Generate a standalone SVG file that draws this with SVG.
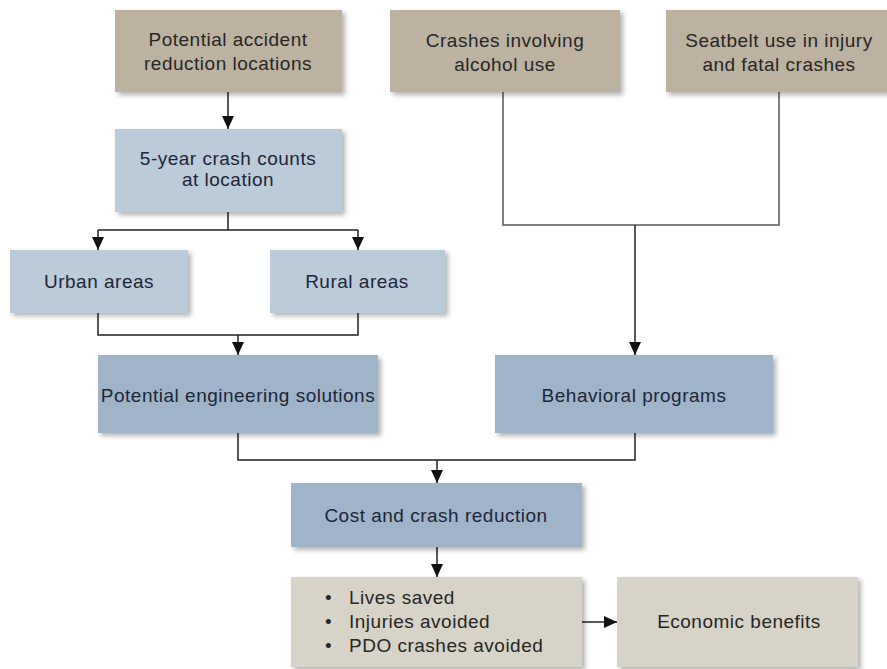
<svg xmlns="http://www.w3.org/2000/svg" width="887" height="669" viewBox="0 0 887 669">
<defs>
<filter id="sh" x="-10%" y="-10%" width="125%" height="130%">
<feDropShadow dx="3" dy="3" stdDeviation="2.5" flood-color="#000" flood-opacity="0.3"/>
</filter>
<marker id="ah" markerWidth="13" markerHeight="12" refX="13" refY="6" orient="auto" markerUnits="userSpaceOnUse">
<path d="M0,0 L13,6 L0,12 Z" fill="#111"/>
</marker>
<style>
.tan{fill:#bcb29f;filter:url(#sh)}
.lb{fill:#bccbd9;filter:url(#sh)}
.mb{fill:#9fb3c9;filter:url(#sh)}
.gr{fill:#d7d3c6;filter:url(#sh)}
text{font-family:"Liberation Sans",Arial,sans-serif;font-size:19px;letter-spacing:0.5px;text-anchor:middle}
.dk{fill:#262626}
.nv{fill:#1c2638}
.st{text-anchor:start}
.ln{fill:none;stroke:#222;stroke-width:1.5}
.lg{fill:none;stroke:#555;stroke-width:1.5}
.ar{marker-end:url(#ah)}
</style>
</defs>
<rect width="887" height="669" fill="#fff"/>
<g id="connectors">
<line class="ln ar" x1="228" y1="92" x2="228" y2="129"/>
<path class="ln" d="M228,212 V230 M98,230 H358"/>
<line class="ln ar" x1="98" y1="230" x2="98" y2="250"/>
<line class="ln ar" x1="358" y1="230" x2="358" y2="250"/>
<path class="ln" d="M98,313 V335 H358 V313"/>
<line class="ln ar" x1="238" y1="335" x2="238" y2="355"/>
<path class="lg" d="M503,92 V225 H779 V92"/>
<line class="ln ar" x1="635" y1="225" x2="635" y2="355"/>
<path class="ln" d="M238,433 V460 H635 V433"/>
<line class="ln ar" x1="437" y1="460" x2="437" y2="483"/>
<line class="ln ar" x1="437" y1="547" x2="437" y2="577"/>
<line class="ln ar" x1="582" y1="622" x2="617" y2="622"/>
</g>
<g id="n1"><rect class="tan" x="115" y="10" width="227" height="82"/>
<text class="dk" x="228" y="46">Potential accident</text><text class="dk" x="228" y="70">reduction locations</text></g>
<g id="n2"><rect class="tan" x="390" y="10" width="230" height="82"/>
<text class="dk" x="505" y="47">Crashes involving</text><text class="dk" x="505" y="71">alcohol use</text></g>
<g id="n3"><rect class="tan" x="666" y="10" width="226" height="82"/>
<text class="dk" x="779" y="47">Seatbelt use in injury</text><text class="dk" x="779" y="71">and fatal crashes</text></g>
<g id="n4"><rect class="lb" x="115" y="129" width="227" height="83"/>
<text class="nv" x="228" y="165">5-year crash counts</text><text class="nv" x="228" y="186">at location</text></g>
<g id="n5"><rect class="lb" x="10" y="250" width="178" height="63"/>
<text class="nv" x="99" y="288">Urban areas</text></g>
<g id="n6"><rect class="lb" x="270" y="250" width="175" height="63"/>
<text class="nv" x="357" y="288">Rural areas</text></g>
<g id="n7"><rect class="mb" x="98" y="355" width="280" height="78"/>
<text class="nv" x="238" y="402">Potential engineering solutions</text></g>
<g id="n8"><rect class="mb" x="495" y="355" width="278" height="78"/>
<text class="nv" x="634" y="402">Behavioral programs</text></g>
<g id="n9"><rect class="mb" x="291" y="483" width="291" height="64"/>
<text class="nv" x="436" y="522">Cost and crash reduction</text></g>
<g id="n10"><rect class="gr" x="291" y="577" width="291" height="90"/>
<text class="dk st" x="325" y="604">•</text><text class="dk st" x="349" y="604">Lives saved</text>
<text class="dk st" x="325" y="628">•</text><text class="dk st" x="349" y="628">Injuries avoided</text>
<text class="dk st" x="325" y="652">•</text><text class="dk st" x="349" y="652">PDO crashes avoided</text>
</g>
<g id="n11"><rect class="gr" x="617" y="577" width="241" height="90"/>
<text class="dk" x="739" y="628">Economic benefits</text></g>
</svg>
